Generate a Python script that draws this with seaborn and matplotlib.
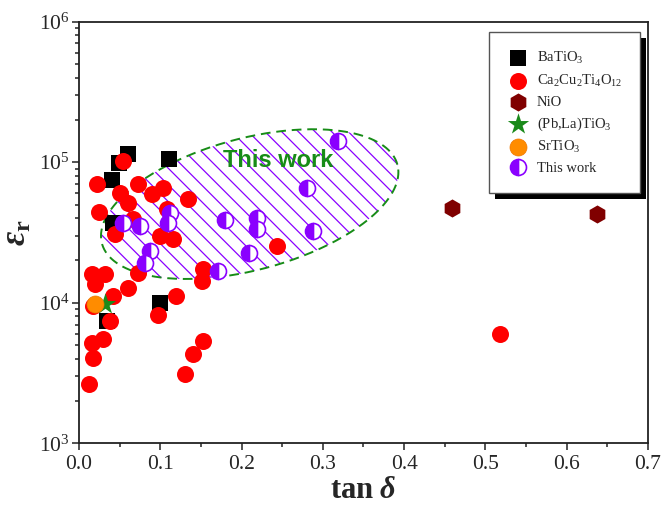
import numpy as np
import pandas as pd
import matplotlib
matplotlib.use('Agg')
import matplotlib.pyplot as plt
import matplotlib.transforms as mtransforms
from matplotlib.patches import Rectangle
from matplotlib.ticker import MultipleLocator
import seaborn as sns

# Data (tan delta, relative permittivity)
bto_tan = [0.060, 0.049, 0.111, 0.041, 0.042, 0.100, 0.034]
bto_eps = [1.14e5, 9.8e4, 1.05e5, 7.45e4, 3.69e4, 1.0e4, 7.45e3]

ccto_tan = [0.054, 0.022, 0.073, 0.050, 0.090, 0.103, 0.134, 0.060, 0.025,
            0.108, 0.066, 0.044, 0.100, 0.116, 0.073, 0.016, 0.032, 0.020,
            0.060, 0.153, 0.151, 0.042, 0.119, 0.017, 0.097, 0.038, 0.016,
            0.030, 0.017, 0.012, 0.153, 0.140, 0.130, 0.518, 0.244]
ccto_eps = [1.02e5, 6.98e4, 6.98e4, 6.03e4, 5.93e4, 6.55e4, 5.47e4, 5.12e4, 4.42e4,
            4.64e4, 3.94e4, 3.08e4, 2.99e4, 2.84e4, 1.63e4, 1.61e4, 1.61e4, 1.36e4,
            1.28e4, 1.74e4, 1.43e4, 1.12e4, 1.12e4, 9.5e3, 8.2e3, 7.45e3, 5.2e3,
            5.5e3, 4.07e3, 2.67e3, 5.37e3, 4.35e3, 3.13e3, 6.03e3, 2.54e4]

nio_tan = [0.459, 0.637]
nio_eps = [4.72e4, 4.28e4]

plto_tan = [0.032]
plto_eps = [9.8e3]

sto_tan = [0.020]
sto_eps = [9.8e3]

work_tan = [0.054, 0.075, 0.112, 0.109, 0.180, 0.087, 0.081, 0.171, 0.319,
            0.280, 0.219, 0.219, 0.288, 0.209]
work_eps = [3.69e4, 3.52e4, 4.35e4, 3.69e4, 3.88e4, 2.34e4, 1.92e4, 1.69e4, 1.41e5,
            6.55e4, 4.01e4, 3.35e4, 3.24e4, 2.27e4]

labels = ['BaTiO$_3$', 'Ca$_2$Cu$_2$Ti$_4$O$_{12}$', 'NiO', '(Pb,La)TiO$_3$',
          'SrTiO$_3$', 'This work']

sns.set_style('ticks')
plt.rcParams['font.family'] = ['Liberation Serif', 'DejaVu Serif']
plt.rcParams['mathtext.fontset'] = 'custom'
plt.rcParams['mathtext.rm'] = 'Liberation Serif'
plt.rcParams['mathtext.it'] = 'Liberation Serif:italic:bold'
plt.rcParams['mathtext.bf'] = 'Liberation Serif:bold'
plt.rcParams['hatch.linewidth'] = 0.9

purple = '#8a00ff'
green = '#178c17'

fig = plt.figure(figsize=(6.63, 5.09), dpi=100)
ax = fig.add_axes([0.1192, 0.1287, 0.858, 0.829])
ax.set_yscale('log')

# hatched region (ellipse drawn in screen-like units, tilted 15 deg)
t = np.linspace(0, 2 * np.pi, 300)
a_px, b_px, ang = 153, 66, np.deg2rad(15)
dx = a_px * np.cos(t) * np.cos(ang) - b_px * np.sin(t) * np.sin(ang)
dy = a_px * np.cos(t) * np.sin(ang) + b_px * np.sin(t) * np.cos(ang)
ex = 0.210 + dx * 0.1 / 81.3
ey = 10 ** (4.702 + dy / 141.0)
ax.fill(ex, ey, facecolor='none', edgecolor=purple, hatch='\\\\', linewidth=0, zorder=1)
ax.plot(ex, ey, color=green, linestyle=(0, (5, 3)), linewidth=1.4, zorder=1.5)
ax.text(0.245, 1.02e5, 'This work', color=green, fontsize=17, fontweight='bold',
        family='Liberation Sans', ha='center', va='center', zorder=2)

sns.scatterplot(x=bto_tan, y=bto_eps, marker='s', s=120, color='black',
                linewidth=0, label=labels[0], ax=ax, zorder=2)
sns.scatterplot(x=ccto_tan, y=ccto_eps, marker='o', s=150, color='#ff0000',
                linewidth=0, label=labels[1], ax=ax, zorder=3)
sns.scatterplot(x=nio_tan, y=nio_eps, marker='h', s=170, color='#800000',
                linewidth=0, label=labels[2], ax=ax, zorder=4)
sns.scatterplot(x=plto_tan, y=plto_eps, marker='*', s=260, color='#1a8a1a',
                linewidth=0, label=labels[3], ax=ax, zorder=4)
sns.scatterplot(x=sto_tan, y=sto_eps, marker='o', s=150, color='#ff8c00',
                edgecolor='#f07800', linewidth=0.5, label=labels[4], ax=ax, zorder=4.5)
ax.plot(work_tan, work_eps, linestyle='none', marker='o', markersize=11.5,
        fillstyle='left', markerfacecolor=purple, markerfacecoloralt='white',
        markeredgecolor=purple, markeredgewidth=1.2, label=labels[5], zorder=5)

ax.set_xlim(0, 0.7)
ax.set_ylim(1e3, 1e6)
ax.xaxis.set_major_locator(MultipleLocator(0.1))
ax.xaxis.set_minor_locator(MultipleLocator(0.05))
ax.tick_params(which='both', direction='out', top=False, right=False, width=1.1,
               color='#222222')
ax.tick_params(which='major', length=5, labelsize=15.5, pad=3)
ax.tick_params(axis='y', which='major', pad=1.5)
ax.tick_params(which='minor', length=3)
for sp in ax.spines.values():
    sp.set_linewidth(1.3)
    sp.set_color('#222222')

ax.set_xlabel(r'tan $\delta$', fontsize=22, fontweight='bold', labelpad=2)
ax.set_ylabel(r'$\varepsilon_{\mathbf{r}}$', fontsize=25)
ax.yaxis.set_label_coords(-0.08, 0.5)

leg = ax.legend(loc='upper left', bbox_to_anchor=(0.72, 0.975), borderaxespad=0,
                fontsize=10.5, frameon=True, fancybox=False, borderpad=1.25,
                handlelength=1.5, handletextpad=0.55, labelspacing=0.45,
                facecolor='white', framealpha=1)
leg.get_frame().set_edgecolor('#555555')
leg.get_frame().set_linewidth(1.0)
leg.set_zorder(10)

# black offset shadow behind the legend box
fig.canvas.draw()
bb = leg.get_window_extent()
shadow = Rectangle((bb.x0 + 6, bb.y0 - 6), bb.width, bb.height,
                   transform=mtransforms.IdentityTransform(), facecolor='black',
                   edgecolor='none', zorder=9.9, clip_on=False)
ax.add_artist(shadow)

fig.savefig('out.png', dpi=100)
